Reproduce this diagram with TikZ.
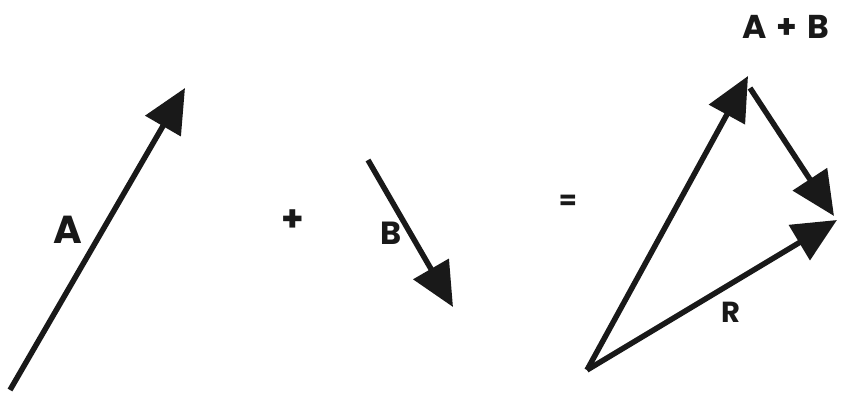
\documentclass[tikz,border=0pt]{standalone}
\usepackage{fontspec}
\setmainfont{Poppins}
\usetikzlibrary{arrows.meta}
\definecolor{ink}{gray}{0.1}
\tikzset{
  vec/.style={draw=ink, line width=5.5pt, -{Triangle[length=44pt,width=40pt]}, fill=ink},
  lab/.style={inner sep=0pt, text=ink, font=\bfseries\fontsize{#1}{#1}\selectfont},
}
\begin{document}
\begin{tikzpicture}[x=1pt,y=-1pt]
\useasboundingbox (0,0) rectangle (841,392);
% vector A
\coordinate (a0) at (10,390);
\coordinate (a1) at (185,88);
\draw[vec] (a0) -- (a1);
\node[lab=39] (la) at (68,230) {A};
% plus
\node[lab=36] (plus) at (293,221) {+};
% vector B
\coordinate (b0) at (368,160);
\coordinate (b1) at (453,307);
\draw[vec] (b0) -- (b1);
\node[lab=32] (lb) at (391,233) {B};
% equals
\node[lab=26] (eq) at (568,202) {=};
% triangle
\coordinate (o) at (587,370);
\coordinate (t) at (748,76);
\coordinate (tb) at (750,88);
\coordinate (s) at (834,216);
\coordinate (r) at (837,220);
\draw[vec] (o) -- (t);
\draw[vec] (tb) -- (s);
\draw[vec] (o) -- (r);
\node[lab=33] (lab2) at (786,27) {A\hspace{0.3em}+\hspace{0.3em}B};
\node[lab=29] (lr) at (731,312) {R};
\end{tikzpicture}
\end{document}
